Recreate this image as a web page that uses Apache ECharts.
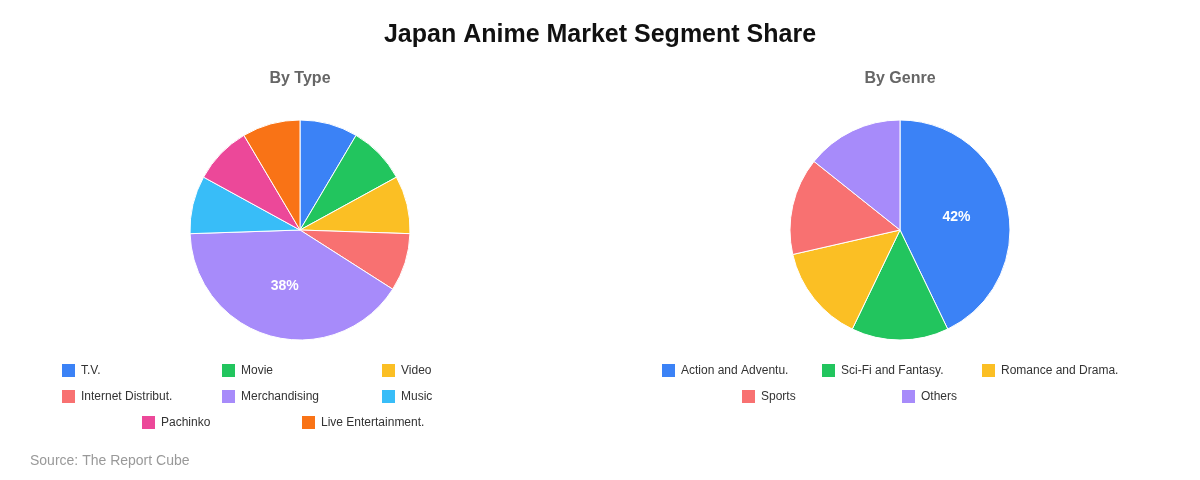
<!DOCTYPE html>
<html>
<head>
<meta charset="utf-8">
<script src="https://cdn.jsdelivr.net/npm/echarts@6/dist/echarts.min.js"></script>
<style>
html,body{margin:0;padding:0;background:#fff;}
#chart{width:1200px;height:480px;}
</style>
</head>
<body>
<div id="chart"></div>
<script>
// ---- data ----
const typeCategories = ['T.V.', 'Movie', 'Video', 'Internet Distribut.', 'Merchandising', 'Music', 'Pachinko', 'Live Entertainment.'];
const typeValues = [8, 8, 8, 8, 38, 8, 8, 8];
const genreCategories = ['Action and Adventu.', 'Sci-Fi and Fantasy.', 'Romance and Drama.', 'Sports', 'Others'];
const genreValues = [42, 14, 14, 14, 14];
const typeColors = ['#3b82f6', '#22c55e', '#fbbf24', '#f87171', '#a78bfa', '#38bdf8', '#ec4899', '#f97316'];
const genreColors = ['#3b82f6', '#22c55e', '#fbbf24', '#f87171', '#a78bfa'];
const titleText = 'Japan Anime Market Segment Share';
const subTitles = ['By Type', 'By Genre'];
const sourceText = 'Source: The Report Cube';

const FONT = 'Liberation Sans, Arial, sans-serif';
const chart = echarts.init(document.getElementById('chart'));

// legend grid: 3 items per row, each 160px wide, rows centered on pie center
const ITEM_W = 160, PER_ROW = 3, ROW_H = 26, LEGEND_TOP = 362;
function legendItems(names, centerX) {
  const out = [];
  names.forEach((n, i) => {
    const row = Math.floor(i / PER_ROW);
    const col = i % PER_ROW;
    const inRow = Math.min(PER_ROW, names.length - row * PER_ROW);
    const rowLeft = centerX - inRow * ITEM_W / 2;
    out.push({
      data: [n],
      left: rowLeft + col * ITEM_W,
      top: LEGEND_TOP + row * ROW_H,
      orient: 'horizontal',
      padding: 0,
      itemGap: 0,
      itemWidth: 15,
      itemHeight: 15,
      icon: 'rect',
      selectedMode: false,
      textStyle: { fontSize: 12, color: '#333', fontFamily: FONT }
    });
  });
  return out;
}

const labelFmt = p => (p.value >= 20 ? p.value + '%' : '');

const option = {
  animation: false,
  title: [
    { text: titleText, left: 'center', top: 23, padding: 0, textStyle: { fontSize: 25, fontWeight: 'bold', color: '#111', fontFamily: FONT } },
    { text: subTitles[0], left: 300, textAlign: 'center', top: 71, padding: 0, textStyle: { fontSize: 16, fontWeight: 'bold', color: '#666', fontFamily: FONT } },
    { text: subTitles[1], left: 900, textAlign: 'center', top: 71, padding: 0, textStyle: { fontSize: 16, fontWeight: 'bold', color: '#666', fontFamily: FONT } },
    { text: sourceText, left: 30, top: 454, padding: 0, textStyle: { fontSize: 14, fontWeight: 'normal', color: '#999', fontFamily: FONT } }
  ],
  legend: legendItems(typeCategories, 300).concat(legendItems(genreCategories, 900)),
  series: [
    {
      type: 'pie',
      center: [300, 230],
      radius: [0, 110],
      startAngle: 90,
      clockwise: true,
      color: typeColors,
      itemStyle: { borderColor: '#fff', borderWidth: 1 },
      label: { show: true, position: 'inside', formatter: labelFmt, color: '#fff', fontSize: 14, fontWeight: 'bold', fontFamily: FONT },
      labelLine: { show: false },
      emphasis: { scale: false },
      data: typeCategories.map((n, i) => ({ name: n, value: typeValues[i] }))
    },
    {
      type: 'pie',
      center: [900, 230],
      radius: [0, 110],
      startAngle: 90,
      clockwise: true,
      color: genreColors,
      itemStyle: { borderColor: '#fff', borderWidth: 1 },
      label: { show: true, position: 'inside', formatter: labelFmt, color: '#fff', fontSize: 14, fontWeight: 'bold', fontFamily: FONT },
      labelLine: { show: false },
      emphasis: { scale: false },
      data: genreCategories.map((n, i) => ({ name: n, value: genreValues[i] }))
    }
  ]
};
chart.setOption(option);
</script>
</body>
</html>
